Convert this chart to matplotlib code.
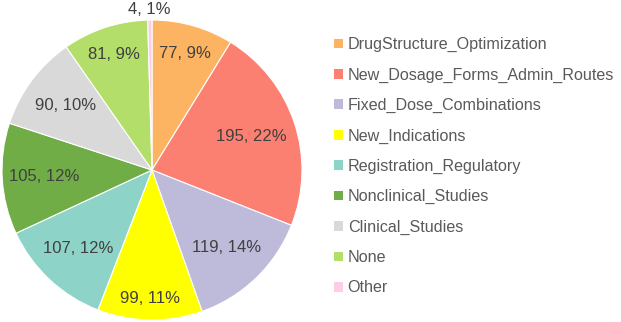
import numpy as np
import matplotlib.pyplot as plt
from matplotlib.patches import Patch

plt.rcParams['font.family'] = ['Liberation Sans', 'DejaVu Sans']

# 数据
categories = ['DrugStructure_Optimization', 'New_Dosage_Forms_Admin_Routes', 'Fixed_Dose_Combinations',
              'New_Indications', 'Registration_Regulatory', 'Nonclinical_Studies', 'Clinical_Studies',
              'None', 'Other']
counts = [77, 195, 119, 99, 107, 105, 90, 81, 4]
percents = [9, 22, 14, 11, 12, 12, 10, 9, 1]
colors = ['#FDB462', '#FB8072', '#BEBADA', '#FFFF00', '#8DD3C7', '#70AD47', '#D9D9D9', '#B3DE69', '#FCCDE5']
# 标签离圆心的距离(相对半径)
label_r = [0.81, 0.70, 0.72, 0.86, 0.72, 0.72, 0.72, 0.81, 1.07]

fig = plt.figure(figsize=(6.21, 3.22), dpi=100)
ax = fig.add_axes([2 / 621, 2 / 322, 300 / 621, 300 / 322])

wedges, _ = ax.pie(counts, colors=colors, startangle=90, counterclock=False,
                   wedgeprops=dict(edgecolor='white', linewidth=0.8))
ax.set_xlim(-1, 1)
ax.set_ylim(-1, 1)
ax.set_aspect('equal')

for w, c, p, r in zip(wedges, counts, percents, label_r):
    ang = np.deg2rad((w.theta1 + w.theta2) / 2)
    ax.text(r * np.cos(ang), r * np.sin(ang), '%d, %d%%' % (c, p), ha='center', va='center',
            fontsize=12, color='#404040', clip_on=False)

handles = [Patch(facecolor=col, edgecolor='none') for col in colors]
fig.legend(handles, categories, loc='upper left', bbox_to_anchor=(326 / 621, 1 - 29 / 322),
           frameon=False, fontsize=11.6, handlelength=0.55, handleheight=0.55, handletextpad=0.3,
           labelspacing=0.95, labelcolor='#595959', borderpad=0)

fig.savefig('out.png', dpi=100)
